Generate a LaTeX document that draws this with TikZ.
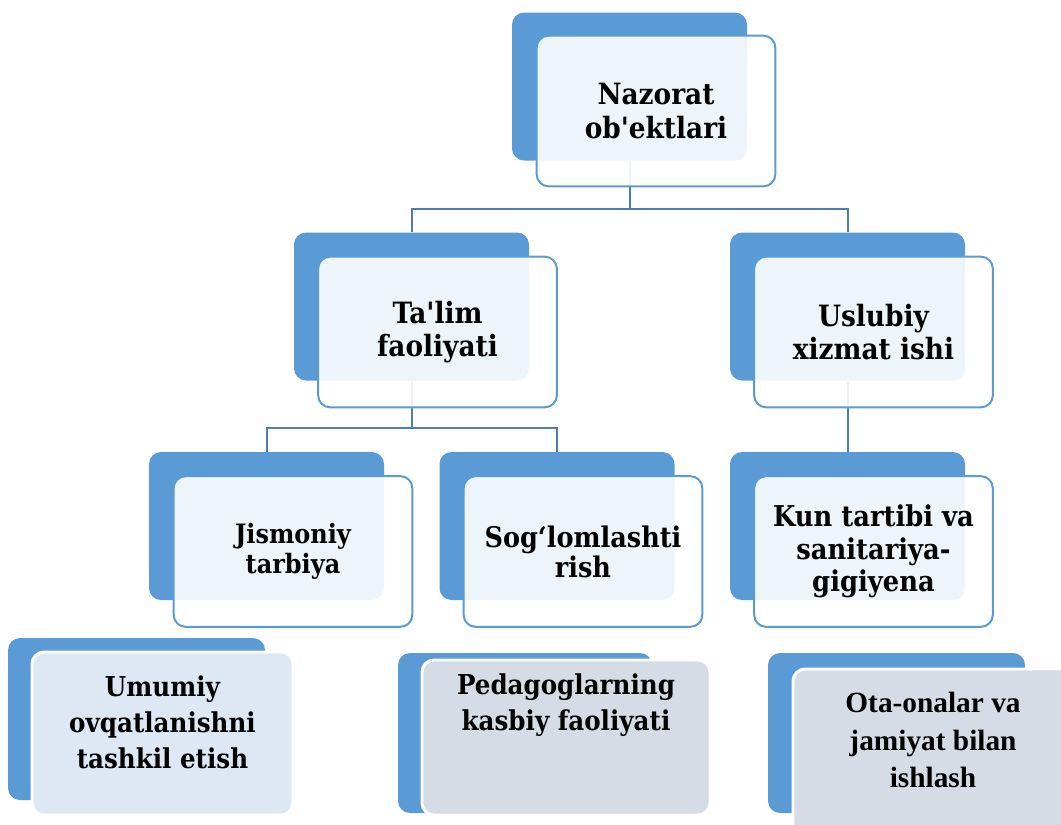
\documentclass[tikz,border=0pt]{standalone}
\usepackage{fontspec}
\setmainfont{DejaVu Serif Condensed}[Ligatures=TeXOff]
\newfontfamily\timesfont{Liberation Serif}
\definecolor{acc}{HTML}{5B9BD5}
\definecolor{connc}{HTML}{4A7EBB}
\definecolor{lowblue}{HTML}{DEE8F5}
\definecolor{lowgrey}{HTML}{D6DCE5}
\tikzset{
  backbox/.style={rectangle, rounded corners=9pt, fill=acc, draw=none, inner sep=0pt,
    minimum width=176.25pt, minimum height=111pt},
  frontbox/.style={rectangle, rounded corners=9pt, fill=white, fill opacity=0.9, text opacity=1,
    draw=acc, line width=1.5pt, inner sep=0pt, minimum width=179pt, minimum height=113pt,
    align=center, text=black},
  bigtxt/.style={font=\bfseries\fontsize{22}{25}\selectfont},
  midtxt/.style={font=\bfseries\fontsize{20}{22.5}\selectfont},
  sogtxt/.style={font=\bfseries\fontsize{21.3}{22.5}\selectfont},
  kuntxt/.style={font=\bfseries\fontsize{21.5}{24.5}\selectfont},
  lowfront/.style={rectangle, rounded corners=9pt, draw=white, line width=2.2pt, inner sep=0pt},
  lowtxt/.style={align=center, text=black, inner sep=0pt, font=\bfseries\fontsize{20.5}{27}\selectfont},
  otatxt/.style={align=center, text=black, inner sep=0pt, font=\timesfont\bfseries\fontsize{22}{28}\selectfont},
  conn/.style={draw=connc, line width=1.5pt}
}
\begin{document}
\begin{tikzpicture}[x=0.75pt, y=-0.75pt]
\useasboundingbox (0,0) rectangle (1061,825);
\clip (0,0) rectangle (1061,825);
% back boxes
\node[backbox] (nzb) at (629.5,86.5) {};
\node[backbox] (tlb) at (411.5,306.5) {};
\node[backbox] (usb) at (847.5,306.5) {};
\node[backbox] (jsb) at (266.5,526) {};
\node[backbox] (sgb) at (557,526) {};
\node[backbox] (kub) at (847.5,526) {};
% connectors
\coordinate (j1) at (629.5,209);
\coordinate (j2) at (411.5,428);
\draw[conn] (nzb.south) -- (j1) -| (tlb.north);
\draw[conn] (j1) -| (usb.north);
\draw[conn] (tlb.south) -- (j2) -| (jsb.north);
\draw[conn] (j2) -| (sgb.north);
\draw[conn] (usb.south) -- (kub.north);
% front boxes
\node[frontbox, bigtxt] (nzf) at (656,111) {Nazorat\\ob'ektlari};
\node[frontbox, bigtxt] (tlf) at (437.5,332) {Ta'lim\\faoliyati};
\node[frontbox, bigtxt] (usf) at (873.5,332) {Uslubiy\\xizmat ishi};
\node[frontbox, midtxt] (jsf) at (293,551.5) {Jismoniy\\tarbiya};
\node[frontbox, sogtxt] (sgf) at (583,551.5) {Sog‘lomlashti\\rish};
\node[frontbox, kuntxt] (kuf) at (873.5,551.5) {Kun tartibi va\\sanitariya-\\gigiyena};
% bottom row
\node[backbox, minimum width=192.75pt, minimum height=121.5pt] (umb) at (136.5,719) {};
\node[lowfront, fill=lowblue, minimum width=195.75pt, minimum height=122.25pt] (umf) at (162.5,733.5) {};
\node[lowtxt] (umt) at (162.5,722) {Umumiy\\ovqatlanishni\\tashkil etish};
\node[backbox, minimum width=190.5pt, minimum height=120pt] (peb) at (525,733) {};
\node[lowfront, fill=lowgrey, minimum width=216pt, minimum height=116.25pt] (pef) at (566,737.5) {};
\node[lowtxt] (pet) at (566,705) {Pedagoglarning\\kasbiy faoliyati};
\node[backbox, minimum width=192.75pt, minimum height=120pt] (otb) at (896.5,733) {};
\node[lowfront, fill=lowgrey, minimum width=216pt, minimum height=127.5pt] (otf) at (937,754) {};
\node[otatxt] (ott) at (933,740) {Ota-onalar va\\jamiyat bilan\\ishlash};
\end{tikzpicture}
\end{document}
